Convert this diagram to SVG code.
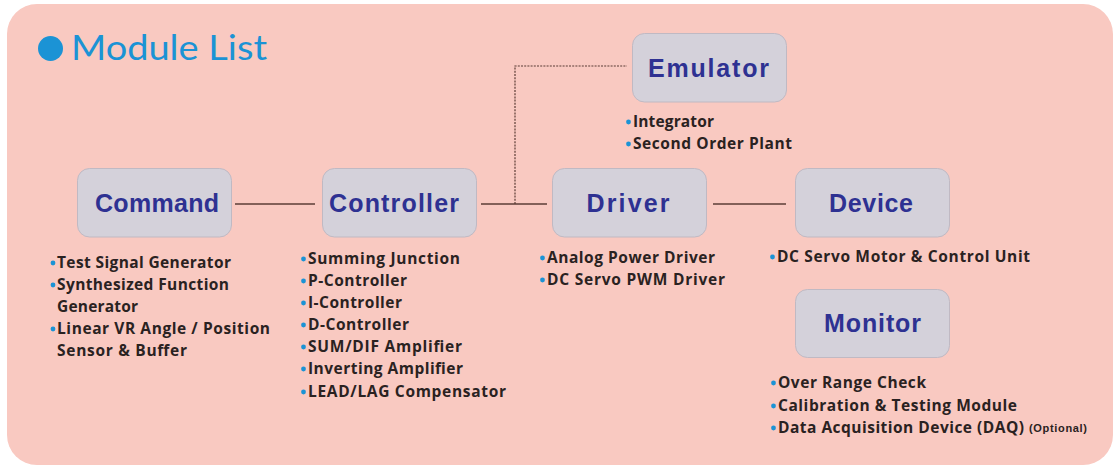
<svg xmlns="http://www.w3.org/2000/svg" width="1120" height="468" viewBox="0 0 1120 468">
<style>
.panel{fill:#f9c9c1}
.box{fill:#d4d1da;stroke:#c0b9c3;stroke-width:1}
.lbl{font-family:"Liberation Sans",Arial,sans-serif;font-weight:bold;font-size:25px;fill:#2e3192;text-anchor:middle}
.item{font-family:"Open Sans","Noto Sans",sans-serif;font-weight:bold;font-size:15.5px;fill:#2a2221}
.opt{font-family:"Liberation Sans",Arial,sans-serif;font-weight:bold;font-size:11px;fill:#2a2221}
.dot{fill:#1b93d5}
.conn{stroke:#5b3c36;stroke-width:1.3;fill:none}
.dash{stroke:#5b3c36;stroke-width:1.2;fill:none;stroke-dasharray:2 1.2}
.title{font-family:"Lato","Open Sans",sans-serif;font-weight:normal;font-size:35px;fill:#1b93d5}
</style>
<rect width="1120" height="468" fill="#ffffff"/>
<rect class="panel" x="7" y="4" width="1106" height="461" rx="30" ry="30"/>
<g id="title">
<circle cx="50.5" cy="48.5" r="12.5" class="dot"/>
<text class="title" x="71" y="60" textLength="196" lengthAdjust="spacingAndGlyphs">Module List</text>
</g>
<g id="connectors">
<line class="conn" x1="235" y1="204" x2="315" y2="204"/>
<line class="conn" x1="481" y1="204" x2="547" y2="204"/>
<line class="conn" x1="713" y1="204" x2="786" y2="204"/>
<polyline class="dash" points="515,204 515,66 627,66"/>
</g>
<g id="command">
<rect class="box" x="77.5" y="168.5" width="154" height="68.5" rx="12"/>
<text class="lbl" x="157" y="212" textLength="124">Command</text>
<circle class="dot" cx="53" cy="263" r="2.4"/><text class="item" x="57" y="268" textLength="174">Test Signal Generator</text>
<circle class="dot" cx="53" cy="285" r="2.4"/><text class="item" x="57" y="290" textLength="172">Synthesized Function</text>
<text class="item" x="57" y="312" textLength="81">Generator</text>
<circle class="dot" cx="53" cy="329" r="2.4"/><text class="item" x="57" y="334" textLength="213">Linear VR Angle / Position</text>
<text class="item" x="57" y="356" textLength="130">Sensor &amp; Buffer</text>
</g>
<g id="controller">
<rect class="box" x="322.5" y="168.5" width="154" height="68.5" rx="12"/>
<text class="lbl" x="394" y="212" textLength="130">Controller</text>
<circle class="dot" cx="303.5" cy="259" r="2.4"/><text class="item" x="308" y="264" textLength="152">Summing Junction</text>
<circle class="dot" cx="303.5" cy="281" r="2.4"/><text class="item" x="308" y="286" textLength="99">P-Controller</text>
<circle class="dot" cx="303.5" cy="303" r="2.4"/><text class="item" x="308" y="308" textLength="94">I-Controller</text>
<circle class="dot" cx="303.5" cy="325" r="2.4"/><text class="item" x="308" y="330" textLength="101">D-Controller</text>
<circle class="dot" cx="303.5" cy="347" r="2.4"/><text class="item" x="308" y="352" textLength="154">SUM/DIF Amplifier</text>
<circle class="dot" cx="303.5" cy="369" r="2.4"/><text class="item" x="308" y="374" textLength="155">Inverting Amplifier</text>
<circle class="dot" cx="303.5" cy="392" r="2.4"/><text class="item" x="308" y="397" textLength="198">LEAD/LAG Compensator</text>
</g>
<g id="emulator">
<rect class="box" x="632.5" y="33.5" width="154" height="68.5" rx="12"/>
<text class="lbl" x="708.5" y="77" textLength="121">Emulator</text>
<circle class="dot" cx="628.5" cy="122" r="2.4"/><text class="item" x="633" y="127" textLength="81">Integrator</text>
<circle class="dot" cx="628.5" cy="144" r="2.4"/><text class="item" x="633" y="149" textLength="159">Second Order Plant</text>
</g>
<g id="driver">
<rect class="box" x="552.5" y="168.5" width="154" height="68.5" rx="12"/>
<text class="lbl" x="628" y="212" textLength="83">Driver</text>
<circle class="dot" cx="542.5" cy="258" r="2.4"/><text class="item" x="547" y="263" textLength="168">Analog Power Driver</text>
<circle class="dot" cx="542.5" cy="280" r="2.4"/><text class="item" x="547" y="285" textLength="178">DC Servo PWM Driver</text>
</g>
<g id="device">
<rect class="box" x="795.5" y="168.5" width="154" height="68.5" rx="12"/>
<text class="lbl" x="871" y="212" textLength="84">Device</text>
<circle class="dot" cx="772.5" cy="257" r="2.4"/><text class="item" x="777" y="262" textLength="253">DC Servo Motor &amp; Control Unit</text>
</g>
<g id="monitor">
<rect class="box" x="795.5" y="289.5" width="154" height="68" rx="12"/>
<text class="lbl" x="872.5" y="332" textLength="97">Monitor</text>
<circle class="dot" cx="773.5" cy="383" r="2.4"/><text class="item" x="778" y="388" textLength="148">Over Range Check</text>
<circle class="dot" cx="773.5" cy="406" r="2.4"/><text class="item" x="778" y="411" textLength="239">Calibration &amp; Testing Module</text>
<circle class="dot" cx="773.5" cy="428" r="2.4"/><text class="item" x="778" y="433" textLength="246">Data Acquisition Device (DAQ)</text>
<text class="opt" x="1029" y="432" textLength="58">(Optional)</text>
</g>
</svg>
